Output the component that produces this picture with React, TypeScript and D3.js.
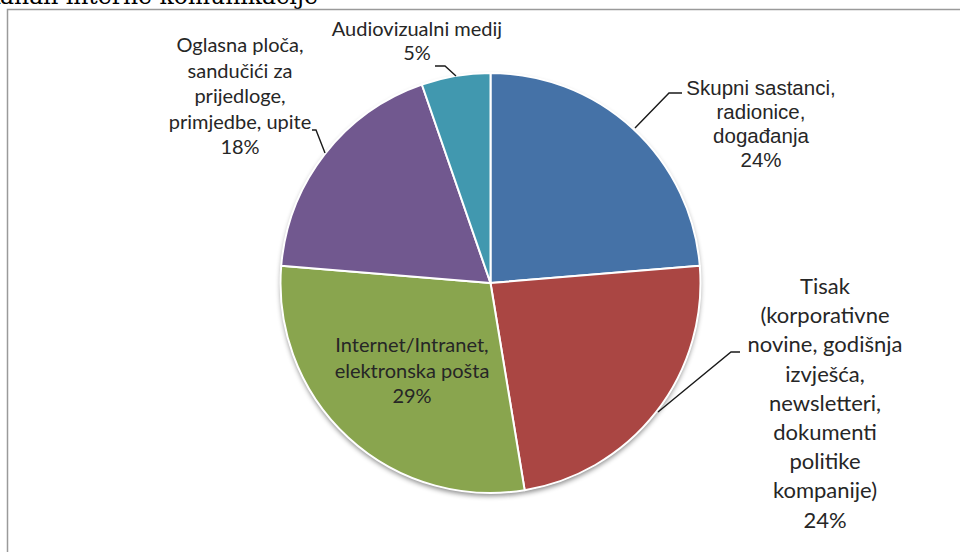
import React from "react";
import * as d3 from "d3";

const categories = [
  "Skupni sastanci, radionice, događanja",
  "Tisak (korporativne novine, godišnja izvješća, newsletteri, dokumenti politike kompanije)",
  "Internet/Intranet, elektronska pošta",
  "Oglasna ploča, sandučići za prijedloge, primjedbe, upite",
  "Audiovizualni medij",
];
const values = [23.7, 23.7, 28.9, 18.4, 5.3];
const percentLabels = ["24%", "24%", "29%", "18%", "5%"];
const labelLines = [
  ["Skupni sastanci,", "radionice,", "događanja"],
  ["Tisak", "(korporativne", "novine, godišnja", "izvješća,", "newsletteri,", "dokumenti", "politike", "kompanije)"],
  ["Internet/Intranet,", "elektronska pošta"],
  ["Oglasna ploča,", "sandučići za", "prijedloge,", "primjedbe, upite"],
  ["Audiovizualni medij"],
];
const colors = ["#4572A7", "#AA4643", "#89A54E", "#71588F", "#4198AF"];
const title = "Kanali interne komunikacije";

// layout (not data)
const W = 960, H = 552;
const cx = 490.5, cy = 283, R = 210;
const labelLayout = [
  { x: 761, y: 95, dy: 24, font: "'Liberation Sans', Arial, sans-serif", size: 20.5 },
  { x: 825, y: 294, dy: 29.2, font: "Lato, sans-serif", size: 22 },
  { x: 412, y: 352, dy: 25.5, font: "Lato, sans-serif", size: 20 },
  { x: 240, y: 52, dy: 25.5, font: "Lato, sans-serif", size: 20 },
  { x: 417, y: 36, dy: 24, font: "Lato, sans-serif", size: 20 },
];
const leaders: ([number, number][] | null)[] = [
  [[682, 93], [669, 93], [635, 128]],
  [[740, 352], [731, 352], [658, 412]],
  null,
  [[312, 130], [316, 130], [325, 153]],
  [[435, 66], [445, 66], [456, 76]],
];

export default function App() {
  const pie = d3.pie<number>().sort(null).startAngle(0).endAngle(2 * Math.PI);
  const arcs = pie(values);
  const arc = d3.arc<d3.PieArcDatum<number>>().innerRadius(0).outerRadius(R);
  const line = d3.line();

  return (
    <svg
      width={W}
      height={H}
      style={{ position: "absolute", left: 0, top: 0, background: "#fff" }}
    >
      <defs>
        <filter id="shadow" x="-20%" y="-20%" width="140%" height="140%">
          <feDropShadow dx="0" dy="3" stdDeviation="2.5" floodColor="#000" floodOpacity="0.45" />
        </filter>
      </defs>
      <rect width={W} height={H} fill="#fff" />
      <text
        x={318}
        y={4}
        textAnchor="end"
        fontFamily="'DejaVu Serif', serif"
        fontSize={23.5}
        fill="#000"
      >
        {title}
      </text>
      <path d={`M7.5,${H} L7.5,9.5 L${W},9.5`} fill="none" stroke="#9a9a9a" strokeWidth={1.5} />

      <g transform={`translate(${cx},${cy})`}>
        <circle r={R} fill="#fff" filter="url(#shadow)" />
        {arcs.map((a, i) => (
          <path key={categories[i]} d={arc(a) || ""} fill={colors[i]} stroke="#fff" strokeWidth={2} strokeLinejoin="round" />
        ))}
      </g>

      {leaders.map((pts, i) =>
        pts ? (
          <path key={"l" + i} d={line(pts) || ""} fill="none" stroke="#1a1a1a" strokeWidth={1.4} />
        ) : null
      )}

      {labelLines.map((lines, i) => {
        const L = labelLayout[i];
        const all = [...lines, percentLabels[i]];
        return (
          <text
            key={"t" + i}
            textAnchor="middle"
            fontFamily={L.font}
            fontSize={L.size}
            fill="#262626"
          >
            {all.map((s, j) => (
              <tspan key={j} x={L.x} y={L.y + j * L.dy}>
                {s}
              </tspan>
            ))}
          </text>
        );
      })}
    </svg>
  );
}
